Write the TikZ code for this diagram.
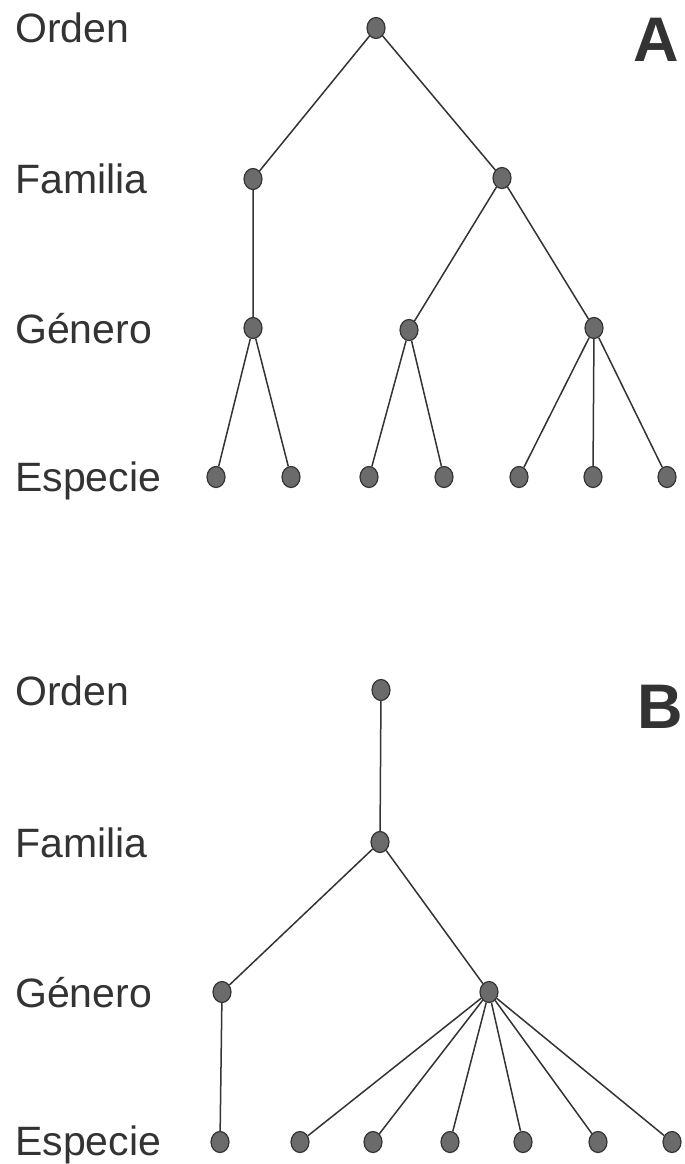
\documentclass[tikz,border=0pt]{standalone}
\usepackage{fontspec}
\setmainfont{Liberation Sans}
\usetikzlibrary{shapes.geometric}
\definecolor{ink}{gray}{0.2}
\definecolor{dotfill}{gray}{0.42}
\tikzset{
  taxon/.style={ellipse, draw=ink, fill=dotfill, line width=1.2pt, minimum width=18pt, minimum height=21pt, inner sep=0pt},
  rank/.style={anchor=base west, inner sep=0pt, text=ink, font=\fontsize{41}{41}\selectfont},
  panel/.style={anchor=base west, inner sep=0pt, text=ink, font=\fontsize{63}{63}\selectfont\bfseries},
  link/.style={draw=ink, line width=1.5pt}
}
\begin{document}
\begin{tikzpicture}[x=1pt,y=-1pt]
\useasboundingbox (0,0) rectangle (685,1164);
\fill[white] (0,0) rectangle (685,1164);
% Panel A labels
\node[rank] (lAo) at (15,43) {Orden};
\node[rank] (lAf) at (15,193) {Familia};
\node[rank] (lAg) at (15,343) {Género};
\node[rank] (lAe) at (15,491) {Especie};
\node[panel] (pA) at (633,62) {A};
% Panel A nodes
\node[taxon] (ao) at (376,28) {};
\node[taxon] (af1) at (253,179) {};
\node[taxon] (af2) at (502,178) {};
\node[taxon] (ag1) at (253,328) {};
\node[taxon] (ag2) at (409,330) {};
\node[taxon] (ag3) at (594,328) {};
\node[taxon] (ae1) at (216,477) {};
\node[taxon] (ae2) at (291,477) {};
\node[taxon] (ae3) at (369,477) {};
\node[taxon] (ae4) at (444,477) {};
\node[taxon] (ae5) at (519,477) {};
\node[taxon] (ae6) at (593,477) {};
\node[taxon] (ae7) at (667,477) {};
\path[link] (ao) -- (af1) (ao) -- (af2)
  (af1) -- (ag1) (af2) -- (ag2) (af2) -- (ag3)
  (ag1) -- (ae1) (ag1) -- (ae2)
  (ag2) -- (ae3) (ag2) -- (ae4)
  (ag3) -- (ae5) (ag3) -- (ae6) (ag3) -- (ae7);
% Panel B labels
\node[rank] (lBo) at (15,705) {Orden};
\node[rank] (lBf) at (15,857) {Familia};
\node[rank] (lBg) at (15,1007) {Género};
\node[rank] (lBe) at (15,1155) {Especie};
\node[panel] (pB) at (637,728) {B};
% Panel B nodes
\node[taxon] (bo) at (381,690) {};
\node[taxon] (bf) at (380,842) {};
\node[taxon] (bg1) at (222,992) {};
\node[taxon] (bg2) at (489,992) {};
\node[taxon] (be1) at (220,1142) {};
\node[taxon] (be2) at (300,1142) {};
\node[taxon] (be3) at (373,1142) {};
\node[taxon] (be4) at (450,1142) {};
\node[taxon] (be5) at (523,1142) {};
\node[taxon] (be6) at (598,1142) {};
\node[taxon] (be7) at (672,1142) {};
\path[link] (bo) -- (bf) (bf) -- (bg1) (bf) -- (bg2)
  (bg1) -- (be1)
  (bg2) -- (be2) (bg2) -- (be3) (bg2) -- (be4) (bg2) -- (be5) (bg2) -- (be6) (bg2) -- (be7);
\end{tikzpicture}
\end{document}
